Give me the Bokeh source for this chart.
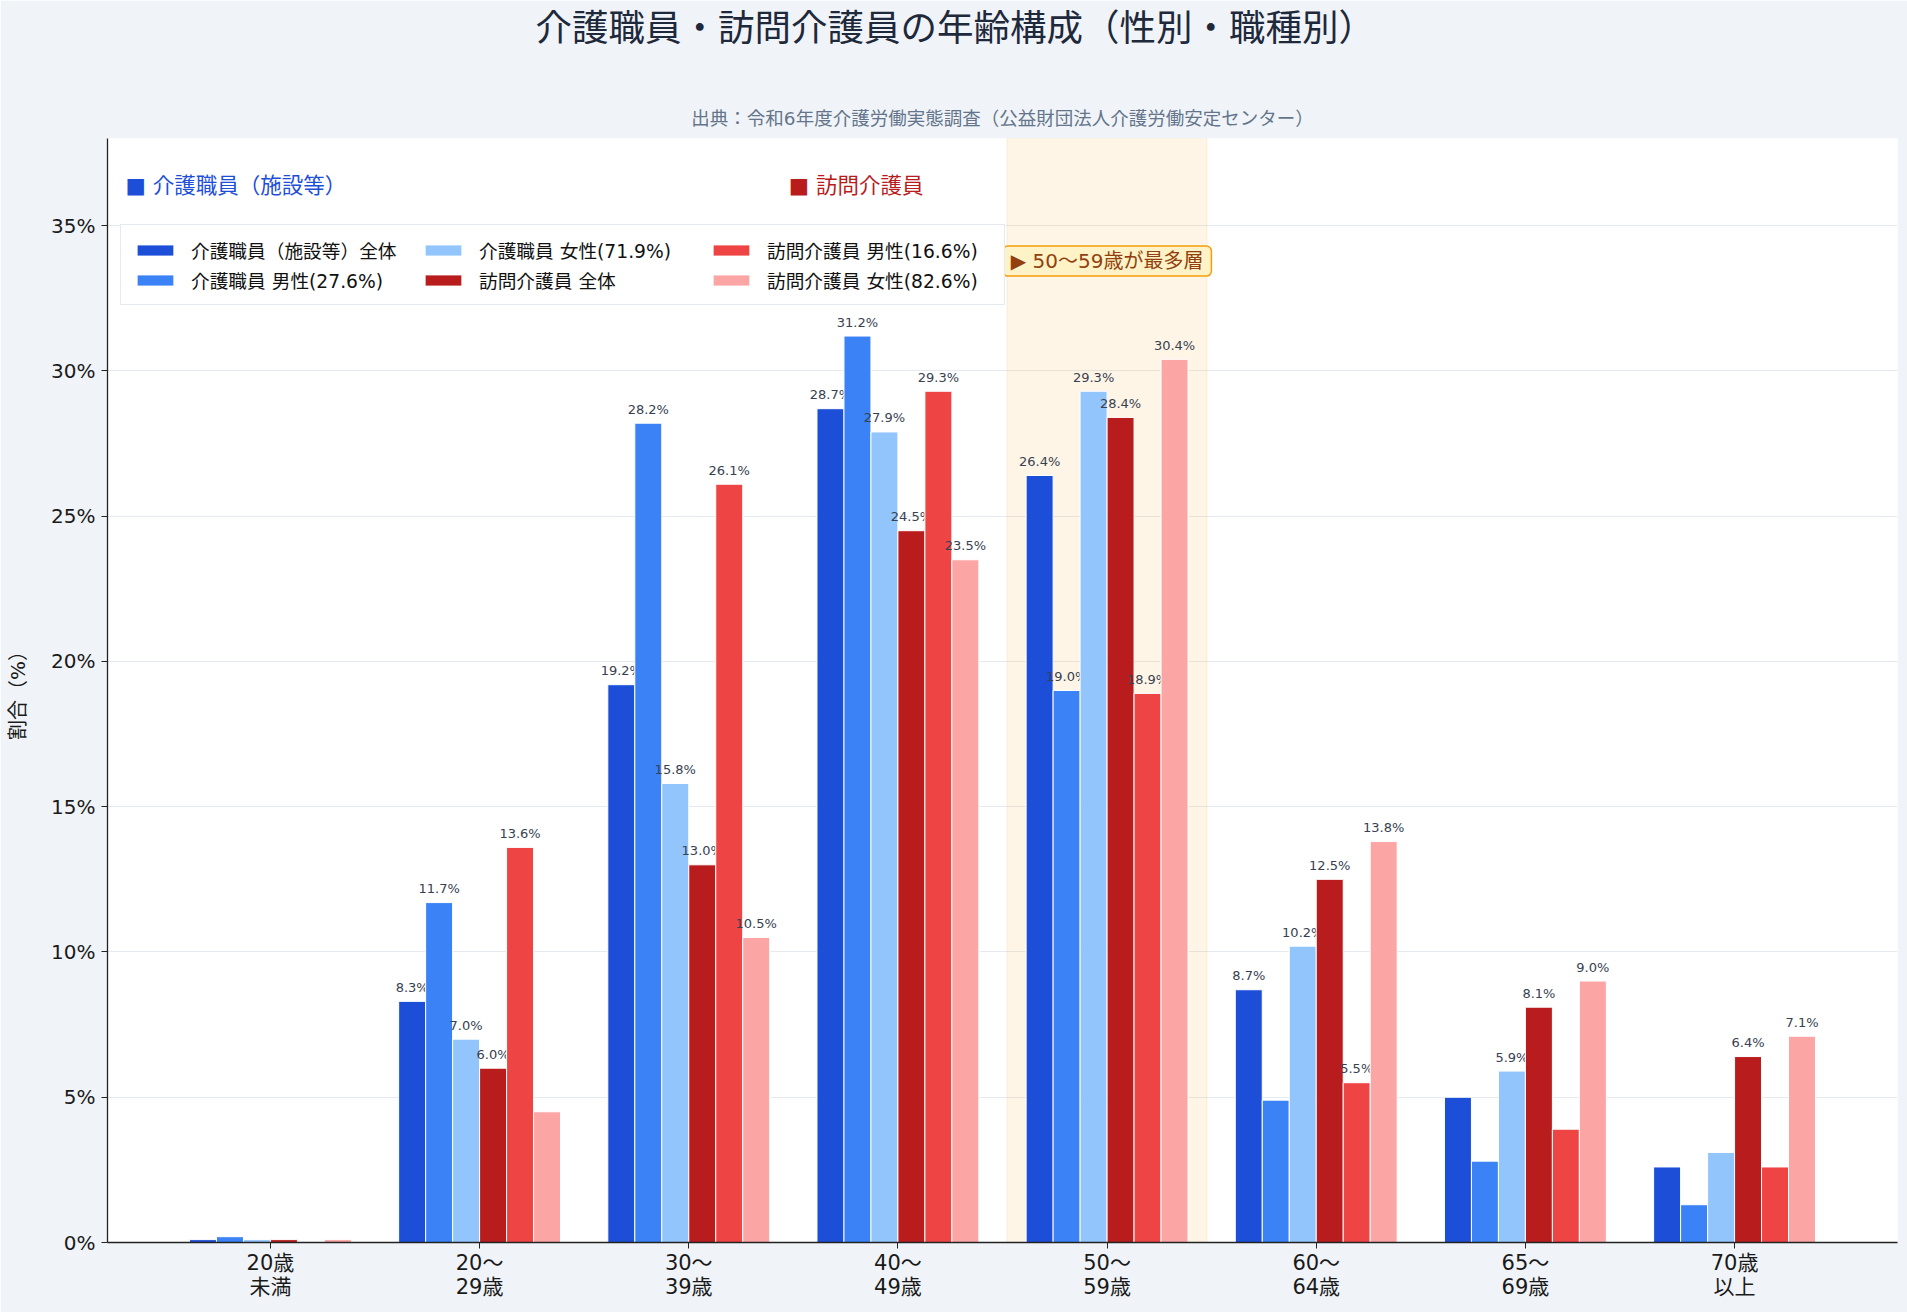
from bokeh.plotting import figure
from bokeh.models import (Range1d, FixedTicker, PrintfTickFormatter, Legend, LegendItem,
                          BoxAnnotation, Label, ColumnDataSource, Title, LinearAxis)
from bokeh.core.properties import value
from bokeh.embed import file_html
from bokeh.resources import INLINE

FONT = "DejaVu Sans, Noto Sans CJK JP"
CJK = "Noto Sans CJK JP"

# ---- data ----
age_groups = ["20歳\n未満", "20〜\n29歳", "30〜\n39歳", "40〜\n49歳",
              "50〜\n59歳", "60〜\n64歳", "65〜\n69歳", "70歳\n以上"]
series_names = ["介護職員（施設等）全体", "介護職員 男性(27.6%)", "介護職員 女性(71.9%)",
                "訪問介護員 全体", "訪問介護員 男性(16.6%)", "訪問介護員 女性(82.6%)"]
kaigo_all    = [0.1, 8.3, 19.2, 28.7, 26.4, 8.7, 5.0, 2.6]
kaigo_male   = [0.2, 11.7, 28.2, 31.2, 19.0, 4.9, 2.8, 1.3]
kaigo_female = [0.1, 7.0, 15.8, 27.9, 29.3, 10.2, 5.9, 3.1]
houmon_all    = [0.1, 6.0, 13.0, 24.5, 28.4, 12.5, 8.1, 6.4]
houmon_male   = [0.0, 13.6, 26.1, 29.3, 18.9, 5.5, 3.9, 2.6]
houmon_female = [0.1, 4.5, 10.5, 23.5, 30.4, 13.8, 9.0, 7.1]
series_values = [kaigo_all, kaigo_male, kaigo_female, houmon_all, houmon_male, houmon_female]
colors = ["#1d4ed8", "#3b82f6", "#93c5fd", "#b91c1c", "#ef4444", "#fca5a5"]
y_ticks = [0, 5, 10, 15, 20, 25, 30, 35]
title_text = "介護職員・訪問介護員の年齢構成（性別・職種別）"
subtitle_text = "出典：令和6年度介護労働実態調査（公益財団法人介護労働安定センター）"
highlight_text = "▶ 50〜59歳が最多層"

BAR_W = 0.129
x_idx = list(range(len(age_groups)))

p = figure(width=1907, height=1312, output_backend="svg", toolbar_location=None,
           x_range=Range1d(-0.779, 7.779), y_range=Range1d(0, 38),
           min_border_left=107, min_border_right=10, min_border_top=138, min_border_bottom=70)
p.border_fill_color = "#f0f4f8"
p.background_fill_color = "white"
p.outline_line_color = None
p.xgrid.visible = False
p.ygrid.grid_line_color = "#e5eaf0"
p.ygrid.grid_line_width = 1

bottom_axis = p.below[0]
left_axis = p.left[0]

# subtitle carried by an axis above the frame (closest to the frame)
sub_axis = LinearAxis(ticker=FixedTicker(ticks=[3.5]), major_label_overrides={3.5: subtitle_text},
                      axis_line_color=None, major_tick_line_color=None, minor_tick_line_color=None,
                      major_tick_out=0, major_tick_in=0, major_label_standoff=10,
                      major_label_text_font=FONT, major_label_text_font_size="18.5px",
                      major_label_text_color="#64748b",
                      axis_label=" ", axis_label_text_font_size="10px", axis_label_standoff=41)
p.add_layout(sub_axis, "above")
# main title above it
p.add_layout(Title(text=title_text, align="left", offset=428, standoff=-8, vertical_align="top",
                   text_font=CJK, text_font_size="36.5px", text_font_style="normal",
                   text_color="#1e293b"), "above")

# highlight band
band = BoxAnnotation(left=3.522, right=4.478, fill_color="#f59e0b", fill_alpha=0.1,
                     line_color="#f59e0b", line_alpha=0.15, line_width=1, level="underlay")
p.add_layout(band)

renderers = []
for k, (name, vals, col) in enumerate(zip(series_names, series_values, colors)):
    off = (k - 2.5) * BAR_W
    xs = [i + off for i in x_idx]
    src = ColumnDataSource(dict(x=xs, top=vals))
    r = p.vbar(x="x", top="top", width=BAR_W, source=src, fill_color=col,
               line_color="white", line_width=1)
    renderers.append(r)
    lx = [x for x, v in zip(xs, vals) if v > 5]
    lv = [v for v in vals if v > 5]
    ls = ColumnDataSource(dict(x=lx, y=lv, t=[f"{v:.1f}%" for v in lv]))
    p.text(x="x", y="y", text="t", source=ls, text_align="center",
           text_baseline="alphabetic", y_offset=-14, text_font=value(FONT),
           text_font_size="13px", text_color="#374151")

# axes
bottom_axis.ticker = FixedTicker(ticks=x_idx)
bottom_axis.major_label_overrides = {i: g for i, g in enumerate(age_groups)}
left_axis.ticker = FixedTicker(ticks=y_ticks)
left_axis.formatter = PrintfTickFormatter(format="%d%%")
for ax in (bottom_axis, left_axis):
    ax.axis_line_color = "#222222"
    ax.axis_line_width = 1.3
    ax.major_tick_line_color = "#222222"
    ax.major_tick_out = 6
    ax.major_tick_in = 0
    ax.minor_tick_line_color = None
    ax.major_label_text_font = FONT
    ax.major_label_text_color = "#1a1a1a"
bottom_axis.major_label_text_font_size = "21px"
bottom_axis.major_label_text_line_height = 1.0
bottom_axis.major_label_standoff = 2
left_axis.major_label_text_font_size = "20px"
left_axis.major_label_standoff = 6
left_axis.axis_label = "割合（%）"
left_axis.axis_label_text_font = FONT
left_axis.axis_label_text_font_size = "20px"
left_axis.axis_label_text_font_style = "normal"
left_axis.axis_label_text_color = "#1a1a1a"
left_axis.axis_label_standoff = 18

# legend
items = [LegendItem(label=n, renderers=[r]) for n, r in zip(series_names, renderers)]
legend = Legend(items=items, location=(13, 937), orientation="vertical", nrows=2,
                label_text_font=FONT, label_text_font_size="18.7px", label_text_color="#111111",
                glyph_width=46, glyph_height=14, label_standoff=13, label_height=26,
                label_width=226, spacing=3, padding=11, margin=0,
                border_line_color="#cbd5e1", border_line_width=1.5,
                background_fill_color="white", background_fill_alpha=1.0)
p.add_layout(legend, "center")

# header labels
p.add_layout(Label(x=-0.693, y=36.37, text="■ 介護職員（施設等）", text_baseline="middle",
                   text_font=FONT, text_font_size="21.5px", text_color="#1d4ed8"))
p.add_layout(Label(x=2.478, y=36.37, text="■ 訪問介護員", text_baseline="middle",
                   text_font=FONT, text_font_size="21.5px", text_color="#b91c1c"))

# highlight annotation
p.add_layout(Label(x=4.0, y=33.78, text=highlight_text, text_align="center", text_baseline="middle",
                   text_font=FONT, text_font_size="20px", text_color="#92400e",
                   background_fill_color="#fef3c7", border_line_color="#f59e0b",
                   border_line_width=1.5, padding=dict(left=8, right=8, top=3, bottom=3),
                   border_radius=5))

open("out.html", "w").write(file_html(p, INLINE))
